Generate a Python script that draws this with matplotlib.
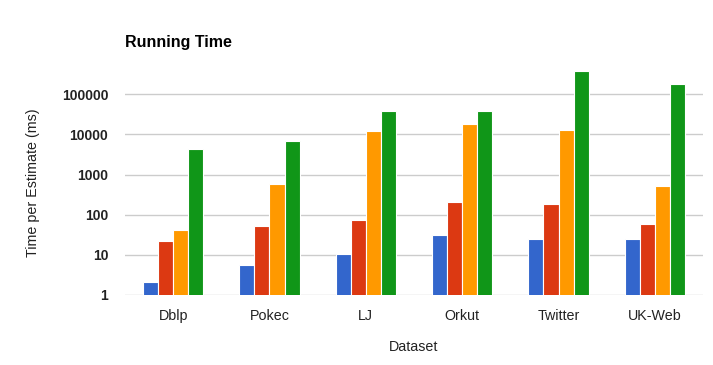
import numpy as np
import matplotlib
matplotlib.use("Agg")
import matplotlib.pyplot as plt

plt.rcParams["font.family"] = ["Liberation Sans", "DejaVu Sans"]

datasets = ["Dblp", "Pokec", "LJ", "Orkut", "Twitter", "UK-Web"]
series1 = [2.15, 5.7, 10.7, 31.8, 25.3, 25.3]
series2 = [22.5, 53, 75, 211, 188, 60]
series3 = [41.5, 591, 12340, 18440, 12820, 527]
series4 = [4310, 6950, 38800, 38800, 384600, 182500]
colors = ["#3366cc", "#dc3912", "#ff9900", "#109618"]

fig = plt.figure(figsize=(7.13, 3.65), dpi=100)
ax = fig.add_axes([0.1753, 0.1918, 0.8107, 0.6164])

x = np.arange(len(datasets))
step = 0.156
for i, vals in enumerate([series1, series2, series3, series4]):
    ax.bar(x + (i - 1.5) * step, vals, step, color=colors[i],
           edgecolor="white", linewidth=0.8, zorder=3)

ax.set_yscale("log")
ax.set_ylim(1, 4e5)
ax.set_xlim(-0.5, len(datasets) - 0.5)
ticks = [1, 10, 100, 1000, 10000, 100000]
ax.set_yticks(ticks)
ax.set_yticklabels([str(t) for t in ticks], fontweight="bold")
ax.yaxis.set_minor_locator(matplotlib.ticker.NullLocator())
ax.set_xticks(x)
ax.set_xticklabels(datasets)
ax.grid(axis="y", color="#cccccc", linewidth=1, zorder=0)
for s in ax.spines.values():
    s.set_visible(False)
ax.tick_params(axis="x", length=0, labelsize=10.3, colors="#222222", pad=10)
ax.tick_params(axis="y", length=0, labelsize=10, colors="#222222", pad=12)

ax.set_xlabel("Dataset", fontsize=10.3, color="#222222", labelpad=12)
ax.set_ylabel("Time per Estimate (ms)", fontsize=10.3, color="#222222", labelpad=16)
fig.text(0.1753, 1 - 42 / 365, "Running Time", fontsize=11.5, fontweight="bold",
         color="black", ha="left", va="center")

fig.savefig("out.png", dpi=100)
